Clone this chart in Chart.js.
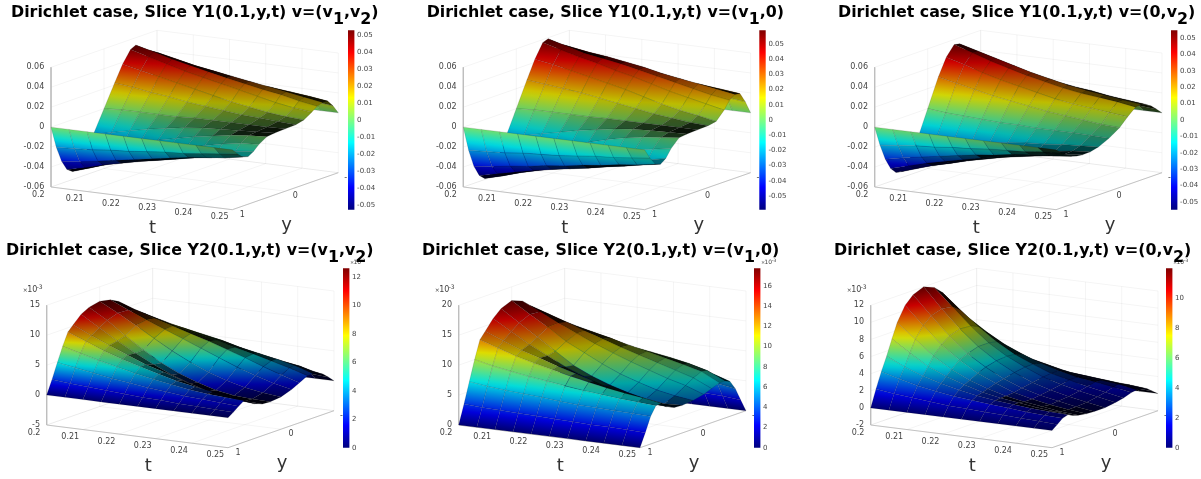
<!DOCTYPE html>
<html><head><meta charset="utf-8">
<script src="https://cdn.jsdelivr.net/npm/chart.js@4"></script>
<style>html,body{margin:0;padding:0;background:#fff;overflow:hidden}canvas{position:absolute;display:block}</style>
</head><body>
<script>
// sampled positions
const tCols=[0.2,0.205,0.21,0.215,0.22,0.225,0.23,0.235,0.24,0.245,0.25];
const yRows=[1,0.9,0.8,0.7,0.6,0.5,0.35,0.2,0,-0.2,-0.35,-0.5,-0.6,-0.7,-0.8,-0.9,-1];
// surface values, units of 1e-3: one line per t column, one entry per y row
const Y1_v1v2=[
[0,-22,-38,-48,-52,-50,-38,-22,0,22,38,50,52.6,48,38,22,0],
[0,-21,-36,-44,-46,-44,-33,-18,1,20,34,45,48,45,36,21,0],
[0,-20,-33,-39,-40,-37,-27,-14,1,17,30,40,43,41,33,19,0],
[0,-18,-30,-35,-35,-31,-21,-10,1,15,26,35,39,37,30,18,0],
[0,-17,-27,-31,-30,-26,-16,-7,1,12,22,31,35,34,28,17,0],
[0,-15,-24,-27.5,-26,-21,-12,-4,2,10,18,27,31,31,26,16,0],
[0,-13,-21,-24,-22,-16,-8,-2,2,8,14,23,27.5,28,24,15,0],
[0,-12,-18,-20.5,-18,-12,-5,-1,2,6,11,19,24,25,22,14,0],
[0,-10,-16,-18,-14,-8,-2,0,2,5,8,15,21,22,20,13,0],
[0,-8,-14,-15,-11,-5,0,1,2,4,6,12,17,19,18,11,0],
[0,-6,-11,-12.3,-9,-4,1,2,2.5,3,5,10,14,16,15.5,9,0]];
const Y1_v1_0=[
[0,-25,-43,-54,-59,-57,-43,-25,0,25,43,57,59,54,43,25,0],
[0,-24,-41,-50,-54,-51,-38,-21,1,23,40,52,54,51,41,24,0],
[0,-23,-38,-46,-48.5,-45,-33,-17,1,21,36,47,49,48,39,23,0],
[0,-21,-36,-42,-44,-40,-27,-13,1,19,32,43,46,46,38,22,0],
[0,-20,-33,-39,-40,-34,-22,-9,1,16,28,38,43,43,36,21,0],
[0,-19,-31,-36,-36.5,-29,-16,-6,1.5,13,24,34,39,40,34,20,0],
[0,-17,-28,-33,-32,-24,-11,-3,1.5,10,19,29,35,36,32,19,0],
[0,-15,-26,-29.5,-28,-19,-7,-1,1.5,7,14,24,31,33,29,17.5,0],
[0,-14,-23,-26.5,-24,-14,-4,0,1.5,5,10,20,27,30,27,16,0],
[0,-12,-21,-23,-20,-11,-2,0.5,1.5,3,7,16,23,27,25,15,0],
[0,-10,-18,-20,-16,-8,0,1,1.5,2,3.5,12,20,24,23,13,0]];
const Y1_0_v2=[
[0,-20,-36,-47,-53,-54,-45,-28,0,28,45,55,54,47,36,20,0],
[0,-18,-32,-42,-47,-48,-41,-27,-2,24,40,49,49,43,32,18,0],
[0,-16,-29,-37,-41.5,-42,-36,-25,-3,20,34,43,44,38,29,16,0],
[0,-15,-26,-33,-37,-37,-32,-23,-4,16,29,38,39,34,26,14,0],
[0,-13,-23,-29,-32,-32.5,-28,-21,-5,13,25,33,34,30,23,13,0],
[0,-12,-20,-25,-28,-28,-26,-19,-5,10,21,29,30,26,20,11,0],
[0,-10,-18,-22,-24,-24.5,-23,-17,-6,7,17,25,26,23,18,10,0],
[0,-9,-15,-19,-21,-21,-20,-16,-6,5,14,22,23,21,16,9,0],
[0,-8,-13,-16,-18,-18.5,-18,-14,-6,3,12,20,20.5,18,14,8,0],
[0,-6,-11,-14,-15.5,-16,-15.5,-13,-6.5,1,10,18,18,16,12,7,0],
[0,-5,-9,-12,-13.5,-14.3,-14,-12,-7,0,8,15,16,14,10.5,5.5,0]];
const Y2_v1v2=[
[0,2.3,4.8,7.2,9.3,10.2,11.5,12.2,12.6,12.2,11.5,10.2,9.3,7.2,4.8,2.3,0],
[0,2,4.3,6.4,8.1,8.8,9.6,10.4,11,10.9,10.4,9.4,8.6,6.8,4.5,2.2,0],
[0,1.8,3.8,5.6,6.9,7.5,7.8,8.2,9.3,9.6,9.4,8.6,7.9,6.3,4.2,2,0],
[0,1.6,3.3,4.9,5.9,6.3,6.1,6.2,7.5,8.4,8.5,7.8,7.3,5.9,4,1.9,0],
[0,1.4,2.9,4.2,5,5.1,4.6,4.4,5.8,7.2,7.6,7.1,6.7,5.4,3.7,1.8,0],
[0,1.2,2.5,3.6,4.2,4.2,3.3,3,4.3,6,6.7,6.4,6.1,5,3.4,1.7,0],
[0,1.1,2.2,3.1,3.4,3.2,2.2,1.9,3,4.8,5.7,5.6,5.3,4.5,3.1,1.5,0],
[0,0.9,1.9,2.6,2.8,2.3,1.3,1,2,3.6,4.7,4.9,4.7,4,2.8,1.4,0],
[0,0.8,1.7,2.3,2.3,1.6,0.7,0.5,1.2,2.6,3.6,4.1,4.1,3.5,2.5,1.3,0],
[0,0.7,1.5,2.1,1.9,1.1,0.4,0.3,0.7,1.7,2.6,3.3,3.4,3,2.2,1.1,0],
[0,0.6,1.3,1.9,1.5,0.8,0.3,0.2,0.4,1,1.7,2.4,2.4,2.2,1.7,0.9,0]];
const Y2_v1_0=[
[0,3.2,6.6,10,13,14.1,15.8,17,17.7,17,15.8,14.1,13,10,6.6,3.2,0],
[0,3,6.2,9.3,12,12.9,14,15,15.8,15.6,14.8,13.4,12.2,9.5,6.3,3.1,0],
[0,2.9,5.9,8.8,11,11.7,12.2,13,14,14.1,13.8,12.8,11.7,9.2,6.1,3,0],
[0,2.8,5.7,8.3,10.2,10.8,10.7,11,12,12.7,12.7,12.1,11.1,8.9,6,2.9,0],
[0,2.7,5.5,7.9,9.5,9.8,9.2,9,10.5,11.4,11.7,11.4,10.6,8.6,5.8,2.8,0],
[0,2.6,5.2,7.5,8.8,8.9,8,7.6,9,10.2,10.7,10.6,10,8.2,5.6,2.7,0],
[0,2.5,5,7.1,8.2,8,6.8,6.5,7.7,9.1,9.8,9.9,9.5,7.9,5.4,2.7,0],
[0,2.4,4.9,6.8,7.6,7.1,5.9,5.6,6.7,8.1,8.9,9.2,9,7.5,5.2,2.6,0],
[0,2.4,4.8,6.5,7.1,6.4,5.2,4.9,5.8,7.1,8,8.5,8.4,7.2,5,2.5,0],
[0,2.3,4.7,6.3,6.7,5.8,4.8,4.5,5.2,6.3,7.1,7.7,7.6,6.8,4.8,2.4,0],
[0,2.2,4.6,6.1,6.2,5.3,4.7,4.6,4.8,5.2,5.7,6.2,6.2,5.8,4.3,2.1,0]];
const Y2_0_v2=[
[0,2,3.8,5.4,7.2,8.9,10.6,11.5,12,11.5,10.6,8.9,7.2,5.4,3.8,2,0],
[0,1.7,3.2,4.4,5.8,7.2,8.5,9.3,9.7,9.5,8.8,7.6,6.2,4.7,3.3,1.7,0],
[0,1.5,2.7,3.6,4.5,5.5,6.5,7.2,7.6,7.5,7.1,6.2,5.2,4,2.8,1.5,0],
[0,1.3,2.3,3,3.6,4.2,5,5.4,5.8,5.8,5.6,5,4.3,3.4,2.4,1.3,0],
[0,1.1,2,2.5,2.9,3.2,3.7,4.1,4.4,4.5,4.4,4.1,3.5,2.9,2.1,1.1,0],
[0,1,1.8,2.1,2.3,2.5,2.8,3,3.3,3.5,3.5,3.3,3,2.5,1.8,1,0],
[0,0.9,1.6,1.8,1.9,1.9,2,2.2,2.4,2.6,2.7,2.7,2.5,2.1,1.6,0.9,0],
[0,0.8,1.4,1.6,1.6,1.5,1.5,1.6,1.8,2,2.2,2.2,2.1,1.9,1.4,0.8,0],
[0,0.7,1.2,1.4,1.3,1.2,1.1,1.2,1.3,1.5,1.7,1.9,1.9,1.7,1.3,0.7,0],
[0,0.6,1.1,1.3,1.1,0.9,0.8,0.8,0.9,1.1,1.3,1.6,1.7,1.5,1.2,0.6,0],
[0,0.5,1,1.2,0.9,0.7,0.55,0.5,0.5,0.7,0.9,1.2,1.3,1.3,1,0.5,0]];
// axis ticks
const tTicks=[0.2,0.21,0.22,0.23,0.24,0.25];
const tTickLabels=["0.2","0.21","0.22","0.23","0.24","0.25"];
const yTicks=[1,0,-1];
const yTickLabels=["1","0","-1"];
const zTicksY1=[-60,-40,-20,0,20,40,60];
const zLabelsY1=["-0.06","-0.04","-0.02","0","0.02","0.04","0.06"];
const cbTicksY1=[-50,-40,-30,-20,-10,0,10,20,30,40,50];
const cbLabelsY1=["-0.05","-0.04","-0.03","-0.02","-0.01","0","0.01","0.02","0.03","0.04","0.05"];
const num=a=>a.map(String);

// panel layout (style/position only plus references to the arrays above)
const panels=[
{col:0,row:0,data:Y1_v1v2,axisX:51,floorY:187,barX:348,zmin:-60,zmax:60,zT:zTicksY1,zL:zLabelsY1,cmin:-52.7,cmax:52.7,cT:cbTicksY1,cL:cbLabelsY1,titleX:11,
 title:[["Dirichlet case, Slice Y1(0.1,y,t) v=(v",0],["1",1],[",v",0],["2",1],[")",0]]},
{col:1,row:0,data:Y1_v1_0,axisX:63.3,floorY:187,barX:359.3,zmin:-60,zmax:60,zT:zTicksY1,zL:zLabelsY1,cmin:-59,cmax:59,cT:cbTicksY1,cL:cbLabelsY1,titleX:26.7,
 title:[["Dirichlet case, Slice Y1(0.1,y,t) v=(v",0],["1",1],[",0)",0]]},
{col:2,row:0,data:Y1_0_v2,axisX:74.7,floorY:187,barX:371,zmin:-60,zmax:60,zT:zTicksY1,zL:zLabelsY1,cmin:-54.8,cmax:54.8,cT:cbTicksY1,cL:cbLabelsY1,titleX:38,
 title:[["Dirichlet case, Slice Y1(0.1,y,t) v=(0,v",0],["2",1],[")",0]]},
{col:0,row:1,data:Y2_v1v2,axisX:46.7,floorY:185,barX:343,zmin:-5,zmax:15,zT:[-5,0,5,10,15],zL:num([-5,0,5,10,15]),cmin:0,cmax:12.6,cT:[0,2,4,6,8,10,12],cL:num([0,2,4,6,8,10,12]),titleX:6,exp:true,
 title:[["Dirichlet case, Slice Y2(0.1,y,t) v=(v",0],["1",1],[",v",0],["2",1],[")",0]]},
{col:1,row:1,data:Y2_v1_0,axisX:58.7,floorY:185,barX:354,zmin:0,zmax:20,zT:[0,5,10,15,20],zL:num([0,5,10,15,20]),cmin:0,cmax:17.76,cT:[0,2,4,6,8,10,12,14,16],cL:num([0,2,4,6,8,10,12,14,16]),titleX:22,exp:true,
 title:[["Dirichlet case, Slice Y2(0.1,y,t) v=(v",0],["1",1],[",0)",0]]},
{col:2,row:1,data:Y2_0_v2,axisX:70.7,floorY:185,barX:366,zmin:-2,zmax:12,zT:[-2,0,2,4,6,8,10,12],zL:num([-2,0,2,4,6,8,10,12]),cmin:0,cmax:12,cT:[0,2,4,6,8,10],cL:num([0,2,4,6,8,10]),titleX:34,exp:true,
 title:[["Dirichlet case, Slice Y2(0.1,y,t) v=(0,v",0],["2",1],[")",0]]}
];
const TX=181.3,TY=22.7,YX=106,YY=37,ZH=119.7,BAR_W=6.4,LINE_DENS=27;

function jet(f){
  f=Math.max(0,Math.min(1,f));
  const c=v=>Math.max(0,Math.min(1,1.5-Math.abs(4*f-v)));
  return [c(3),c(2),c(1)];
}
function css(rgb,k){return 'rgb('+rgb.map(v=>Math.round(v*255*k)).join(',')+')';}
// colour gradient of a quad following the plane fitted to its corner values
function quadGradient(g,q,zs,cols){
  const n=4,mx=q.reduce((s,a)=>s+a.x,0)/n,my=q.reduce((s,a)=>s+a.y,0)/n,mz=zs.reduce((s,a)=>s+a,0)/n;
  let xx=0,xy=0,yy=0,xz=0,yz=0;
  q.forEach((a,i)=>{const dx=a.x-mx,dy=a.y-my,dz=zs[i]-mz;xx+=dx*dx;xy+=dx*dy;yy+=dy*dy;xz+=dx*dz;yz+=dy*dz;});
  const det=xx*yy-xy*xy;
  let a=0,b=0;
  if(Math.abs(det)>1e-6){a=(xz*yy-yz*xy)/det;b=(yz*xx-xz*xy)/det;}
  const gg=a*a+b*b;
  if(gg<1e-12){const s=cols(mz);return s;}
  let lo=Infinity,hi=-Infinity;
  q.forEach(p=>{const v=a*(p.x-mx)+b*(p.y-my);lo=Math.min(lo,v);hi=Math.max(hi,v);});
  const gr=g.createLinearGradient(mx+a*lo/gg,my+b*lo/gg,mx+a*hi/gg,my+b*hi/gg);
  for(let s=0;s<=6;s++){gr.addColorStop(s/6,cols(mz+lo+(hi-lo)*s/6));}
  return gr;
}

function build(p,i){
  const W=p.col==2?401:400,H=p.row==1?239:240;
  const cv=document.createElement('canvas');
  cv.width=W;cv.height=H;
  cv.style.cssText=`left:${p.col*400}px;top:${p.row*240}px;width:${W}px;height:${H}px`;
  document.body.appendChild(cv);
  const g=cv.getContext('2d');
  const P=(t,y,z)=>{
    const a=(t-0.2)/0.05,f=(1-y)/2;
    return {x:p.axisX+TX*a+YX*f,y:p.floorY+TY*a-YY*f-(z-p.zmin)/(p.zmax-p.zmin)*ZH};
  };
  const ds=[];
  const add=(pts,o)=>ds.push(Object.assign({data:pts,pointRadius:0,tension:0,fill:false,borderWidth:0.6,borderColor:'#000',clip:false},o));
  // walls and floor grid
  const GRID='rgba(0,0,0,0.08)',AX='#bdbdbd';
  tTicks.forEach(t=>{
    add([P(t,1,p.zmin),P(t,-1,p.zmin),P(t,-1,p.zmax)],{borderColor:GRID});
  });
  yTicks.forEach(y=>{
    add([P(0.25,y,p.zmin),P(0.2,y,p.zmin),P(0.2,y,p.zmax)],{borderColor:GRID});
  });
  p.zT.forEach(z=>{
    add([P(0.2,1,z),P(0.2,-1,z),P(0.25,-1,z)],{borderColor:GRID});
  });
  add([P(0.2,1,p.zmax),P(0.2,1,p.zmin),P(0.25,1,p.zmin),P(0.25,-1,p.zmin)],{borderColor:AX,borderWidth:0.9});
  // surface cells, far to near
  for(let r=yRows.length-1;r>0;r--){
    for(let c=0;c<tCols.length-1;c++){
      const zs=[p.data[c][r],p.data[c+1][r],p.data[c+1][r-1],p.data[c][r-1]];
      const q=[P(tCols[c],yRows[r],zs[0]),P(tCols[c+1],yRows[r],zs[1]),P(tCols[c+1],yRows[r-1],zs[2]),P(tCols[c],yRows[r-1],zs[3])];
      let area=0;
      for(let k=0;k<4;k++){const a=q[k],b=q[(k+1)%4];area+=a.x*b.y-b.x*a.y;}
      area=Math.abs(area)/2;
      const h=Math.max(0.3,area/(TX/10));
      const dark=Math.min(0.93,Math.abs(yRows[r]-yRows[r-1])*LINE_DENS/h);
      const cols=v=>css(jet((v-p.cmin)/(p.cmax-p.cmin)),1-dark);
      const gr=quadGradient(g,q,zs,cols);
      add([q[0],q[1],q[2],q[3],q[0]],{fill:'shape',backgroundColor:gr,borderColor:'rgba(0,0,0,0.3)',borderWidth:0.4});
    }
  }
  // colour bar
  const barTop=P(0.2,1,p.zmax).y-37,barBot=P(0.25,1,p.zmin).y;
  const bg=g.createLinearGradient(0,barBot,0,barTop);
  for(let s=0;s<=32;s++)bg.addColorStop(s/32,css(jet(s/32),1));
  const bx0=p.barX,bx1=p.barX+BAR_W;
  const barY=v=>barBot-(v-p.cmin)/(p.cmax-p.cmin)*(barBot-barTop);
  add([{x:bx0,y:barTop},{x:bx1,y:barTop},{x:bx1,y:barBot},{x:bx0,y:barBot},{x:bx0,y:barTop}],{fill:'shape',backgroundColor:bg,borderWidth:0,borderColor:'transparent'});
  const n=ds.length;ds.forEach((d,k)=>d.order=n-k);

  const textPlugin={id:'labels',
    beforeDatasetsDraw(ch){
      const c=ch.ctx,sx=ch.scales.x,sy=ch.scales.y;
      const X=v=>sx.getPixelForValue(v),Y=v=>sy.getPixelForValue(v);
      c.save();c.fillStyle='#444';c.textBaseline='middle';
      c.font='8px "DejaVu Sans"';c.textAlign='right';
      p.zT.forEach((z,k)=>{const q=P(0.2,1,z);c.fillText(p.zL[k],X(q.x-6.7),Y(q.y));});
      c.textAlign='center';
      tTicks.forEach((t,k)=>{const q=P(t,1,p.zmin);c.fillText(tTickLabels[k],X(q.x-12.7),Y(q.y+7.5));});
      yTicks.forEach((y,k)=>{const q=P(0.25,y,p.zmin);c.fillText(yTickLabels[k],X(q.x+10),Y(q.y+5));});
      c.fillStyle='#333';c.font='18px "DejaVu Sans"';
      c.fillText('t',X(p.axisX+101.5),Y(p.floorY+41));
      c.fillText('y',X(p.axisX+235.5),Y(p.floorY+38));
      if(p.exp){
        c.fillStyle='#444';c.textAlign='left';
        const ex=p.axisX-24,ey=p.floorY-135;
        c.font='6px "DejaVu Sans"';c.fillText('×',X(ex),Y(ey));
        c.font='8px "DejaVu Sans"';c.fillText('10',X(ex+4.5),Y(ey));
        c.font='6px "DejaVu Sans"';c.fillText('-3',X(ex+14),Y(ey-2.5));
      }
      c.restore();
    },
    afterDatasetsDraw(ch){
      const c=ch.ctx,sx=ch.scales.x,sy=ch.scales.y;
      const X=v=>sx.getPixelForValue(v),Y=v=>sy.getPixelForValue(v);
      c.save();c.fillStyle='#444';c.textBaseline='middle';c.textAlign='left';
      c.font='7px "DejaVu Sans"';
      p.cT.forEach((v,k)=>c.fillText(p.cL[k],X(bx1+2.7),Y(barY(v))));
      if(p.exp){
        const ex=p.barX+7,ey=barTop-5.5;
        c.font='5px "DejaVu Sans"';c.fillText('×',X(ex),Y(ey));
        c.font='6px "DejaVu Sans"';c.fillText('10',X(ex+3.5),Y(ey));
        c.font='4.5px "DejaVu Sans"';c.fillText('-3',X(ex+11),Y(ey-2));
      }
      c.fillStyle='#000';c.textBaseline='alphabetic';
      c.font='bold 15.85px "DejaVu Sans"';
      let tx=p.titleX;const base=p.row==0?17:15;
      p.title.forEach(([s,sub])=>{
        c.fillText(s,X(tx),Y(base+(sub?7:0)));
        tx+=c.measureText(s).width;
      });
      c.restore();
    }};
  new Chart(cv,{type:'line',data:{datasets:ds},plugins:[textPlugin],options:{
    responsive:false,animation:false,events:[],devicePixelRatio:1,
    layout:{padding:0},
    plugins:{legend:{display:false},tooltip:{enabled:false},title:{display:false}},
    scales:{x:{type:'linear',min:0,max:W,display:false},y:{type:'linear',min:0,max:H,reverse:true,display:false}},
    elements:{line:{capBezierPoints:false}}
  }});
}
panels.forEach(build);
</script>
</body></html>
